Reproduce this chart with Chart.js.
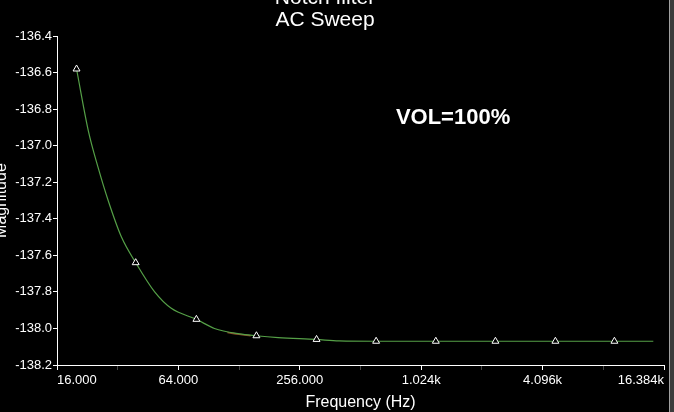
<!DOCTYPE html>
<html>
<head>
<meta charset="utf-8">
<script src="https://cdn.jsdelivr.net/npm/chart.js@4.4.1/dist/chart.umd.min.js"></script>
<style>
    body { margin: 0; background: #000; width: 674px; height: 412px; overflow: hidden; position: relative; }
    #wrap { position: absolute; left: -16px; top: -13px; width: 685px; height: 425px; }
    #edge { position: absolute; left: 669px; top: 0; width: 5px; height: 412px;
            background: linear-gradient(to right, #a0a0a0 0 1px, #3c3c3c 1px); }
</style>
</head>
<body>
<div id="wrap"><canvas id="myChart"></canvas></div>
<div id="edge"></div>
<script>
// curve
const freqs = [20, 22.9, 25.6, 28.7, 33.4, 39.3, 48.8, 59, 78.6, 96.6, 128.5, 155, 200, 308, 401, 612, 1210, 2390, 4740, 9300, 14500];
const mags = [-136.58, -136.92, -137.12, -137.30, -137.50, -137.64, -137.80, -137.89, -137.95, -138.00, -138.03, -138.04, -138.05, -138.06, -138.068, -138.07, -138.07, -138.07, -138.07, -138.07, -138.07];

// triangle markers
const markFreqs = [20, 39.3, 78.6, 156, 310, 612, 1210, 2390, 4740, 9300];
const markMags = [-136.58, -137.64, -137.95, -138.04, -138.06, -138.07, -138.07, -138.07, -138.07, -138.07];

// short orange trace peeking out under the green one
const orangeFreqs = [112, 128, 146];
const orangeMags = [-138.022, -138.032, -138.040];

// axes
const xTicks = [16, 32, 64, 128, 256, 512, 1024, 2048, 4096, 8192, 16384];
const xLabelled = [16, 64, 256, 1024, 4096, 16384];
const yTicks = [-138.2, -138.0, -137.8, -137.6, -137.4, -137.2, -137.0, -136.8, -136.6, -136.4];

const titleLines = ['Notch filter', 'AC Sweep'];
const noteText = 'VOL=100%';
const noteAt = { f: 767, m: -136.883 };

const FONT = "'Liberation Sans', Arial, sans-serif";

function pts(xs, ys) {
    return xs.map((x, i) => ({ x: x, y: ys[i] }));
}

function fmtFreq(v) {
    if (!xLabelled.includes(v)) return '';
    if (v >= 1000) return (v / 1000).toFixed(3) + 'k';
    return v.toFixed(3);
}

const notePlugin = {
    id: 'note',
    afterDatasetsDraw(chart) {
        const ctx = chart.ctx;
        const x = chart.scales.x.getPixelForValue(noteAt.f);
        const y = chart.scales.y.getPixelForValue(noteAt.m);
        ctx.save();
        ctx.font = 'bold 22px ' + FONT;
        ctx.fillStyle = '#fff';
        ctx.textAlign = 'left';
        ctx.textBaseline = 'alphabetic';
        ctx.fillText(noteText, x, y);
        ctx.restore();
    }
};

const ctx = document.getElementById('myChart').getContext('2d');

new Chart(ctx, {
    type: 'line',
    data: {
        datasets: [
            {
                label: 'markers',
                data: pts(markFreqs, markMags),
                showLine: false,
                pointStyle: 'triangle',
                pointRadius: 4,
                borderColor: '#fff',
                backgroundColor: '#000',
                pointBorderWidth: 1
            },
            {
                label: 'Magnitude',
                data: pts(freqs, mags),
                borderColor: '#55a047',
                borderWidth: 1.2,
                pointRadius: 0,
                cubicInterpolationMode: 'monotone'
            },
            {
                label: 'other',
                data: pts(orangeFreqs, orangeMags),
                borderColor: '#8c4a26',
                borderWidth: 1.6,
                pointRadius: 0,
                cubicInterpolationMode: 'monotone'
            }
        ]
    },
    options: {
        responsive: true,
        maintainAspectRatio: false,
        animation: false,
        layout: { padding: { left: 0, right: 3, top: 0, bottom: 0 } },
        plugins: {
            legend: { display: false },
            tooltip: { enabled: false },
            title: {
                display: true,
                text: titleLines,
                color: '#fff',
                font: { family: FONT, size: 21, weight: 'normal', lineHeight: 1.05 },
                padding: { top: 0, bottom: 5 }
            }
        },
        scales: {
            x: {
                type: 'logarithmic',
                position: 'bottom',
                min: 16,
                max: 16384,
                border: { color: '#fff', width: 1 },
                grid: {
                    drawOnChartArea: false,
                    drawTicks: true,
                    tickLength: 5,
                    tickColor: (c) => (c.tick && xLabelled.includes(c.tick.value)) ? '#fff' : '#444'
                },
                ticks: {
                    color: '#fff',
                    font: { family: FONT, size: 13 },
                    padding: 3,
                    autoSkip: false,
                    maxRotation: 0,
                    align: 'inner',
                    callback: (v) => fmtFreq(v)
                },
                afterBuildTicks: (s) => { s.ticks = xTicks.map(v => ({ value: v })); },
                afterFit: (s) => { s.height = 47; },
                title: {
                    display: true,
                    text: 'Frequency (Hz)',
                    color: '#fff',
                    font: { family: FONT, size: 16 },
                    padding: { top: 0, bottom: 0 }
                }
            },
            y: {
                type: 'linear',
                min: -138.2,
                max: -136.4,
                border: { color: '#fff', width: 1 },
                grid: {
                    drawOnChartArea: false,
                    drawTicks: true,
                    tickLength: 4,
                    tickColor: '#fff'
                },
                ticks: {
                    color: '#fff',
                    font: { family: FONT, size: 13 },
                    padding: 1,
                    callback: (v) => v.toFixed(1)
                },
                afterBuildTicks: (s) => { s.ticks = yTicks.map(v => ({ value: v })); },
                afterFit: (s) => { s.width = 73; },
                title: {
                    display: true,
                    text: 'Magnitude',
                    color: '#fff',
                    font: { family: FONT, size: 16 },
                    padding: { top: 8, bottom: 0 }
                }
            }
        }
    },
    plugins: [notePlugin]
});
</script>
</body>
</html>
